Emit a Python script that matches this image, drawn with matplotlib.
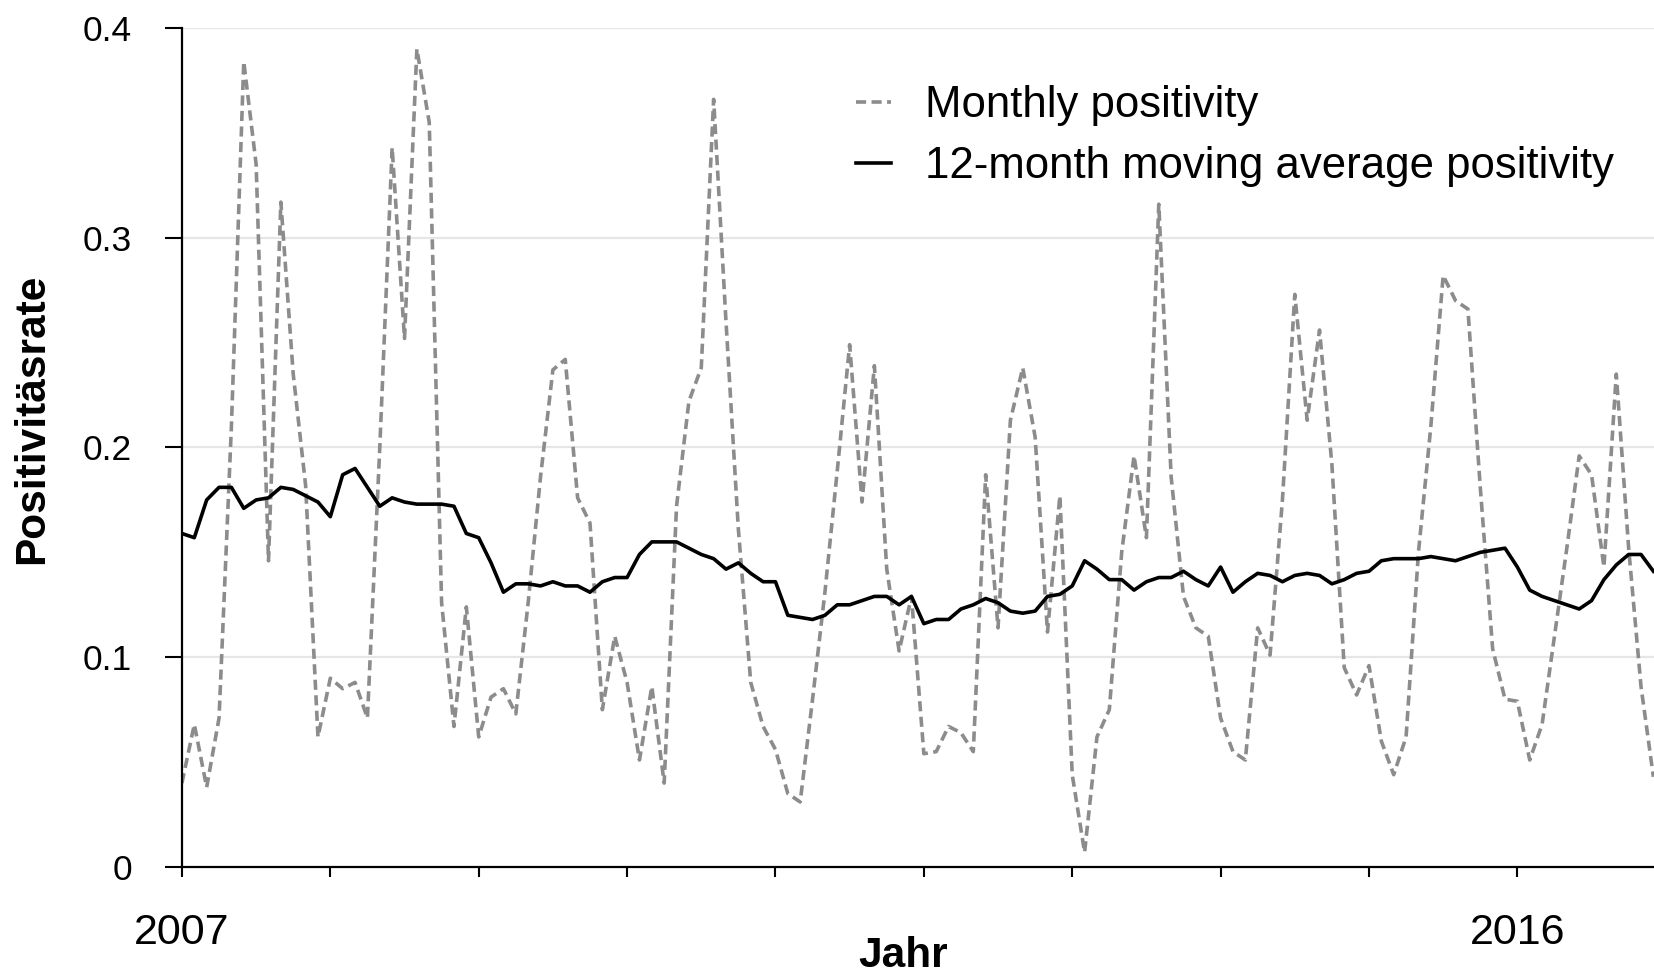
import matplotlib
matplotlib.use("Agg")
import matplotlib.pyplot as plt

plt.rcParams["font.family"] = ["Liberation Sans", "DejaVu Sans"]

# monthly values, Jan 2007 .. Dec 2016
monthly = [
    0.040, 0.068, 0.038, 0.071, 0.210, 0.384, 0.335, 0.146, 0.317, 0.235, 0.182, 0.062,
    0.090, 0.085, 0.088, 0.071, 0.200, 0.343, 0.252, 0.390, 0.355, 0.126, 0.067, 0.124,
    0.062, 0.081, 0.085, 0.073, 0.126, 0.186, 0.237, 0.242, 0.176, 0.164, 0.075, 0.110,
    0.088, 0.051, 0.086, 0.040, 0.172, 0.222, 0.238, 0.366, 0.260, 0.161, 0.088, 0.067,
    0.056, 0.035, 0.031, 0.080, 0.131, 0.189, 0.249, 0.174, 0.239, 0.142, 0.103, 0.129,
    0.054, 0.055, 0.067, 0.064, 0.055, 0.187, 0.114, 0.213, 0.238, 0.205, 0.112, 0.177,
    0.044, 0.007, 0.062, 0.075, 0.150, 0.196, 0.157, 0.316, 0.186, 0.129, 0.114, 0.110,
    0.071, 0.055, 0.051, 0.114, 0.101, 0.175, 0.273, 0.213, 0.256, 0.192, 0.095, 0.082,
    0.096, 0.060, 0.044, 0.062, 0.150, 0.210, 0.282, 0.270, 0.266, 0.181, 0.104, 0.080,
    0.079, 0.051, 0.068, 0.110, 0.152, 0.196, 0.187, 0.143, 0.235, 0.152, 0.086, 0.043,
]

moving_avg = [
    0.159, 0.157, 0.175, 0.181, 0.181, 0.171, 0.175, 0.176, 0.181, 0.180, 0.177, 0.174,
    0.167, 0.187, 0.190, 0.181, 0.172, 0.176, 0.174, 0.173, 0.173, 0.173, 0.172, 0.159,
    0.157, 0.145, 0.131, 0.135, 0.135, 0.134, 0.136, 0.134, 0.134, 0.131, 0.136, 0.138,
    0.138, 0.149, 0.155, 0.155, 0.155, 0.152, 0.149, 0.147, 0.142, 0.145, 0.140, 0.136,
    0.136, 0.120, 0.119, 0.118, 0.120, 0.125, 0.125, 0.127, 0.129, 0.129, 0.125, 0.129,
    0.116, 0.118, 0.118, 0.123, 0.125, 0.128, 0.126, 0.122, 0.121, 0.122, 0.129, 0.130,
    0.134, 0.146, 0.142, 0.137, 0.137, 0.132, 0.136, 0.138, 0.138, 0.141, 0.137, 0.134,
    0.143, 0.131, 0.136, 0.140, 0.139, 0.136, 0.139, 0.140, 0.139, 0.135, 0.137, 0.140,
    0.141, 0.146, 0.147, 0.147, 0.147, 0.148, 0.147, 0.146, 0.148, 0.150, 0.151, 0.152,
    0.143, 0.132, 0.129, 0.127, 0.125, 0.123, 0.127, 0.137, 0.144, 0.149, 0.149, 0.141,
]

years = list(range(2007, 2017))
year_labels = ["2007", "", "", "", "", "", "", "", "", "2016"]
y_ticks = [0, 0.1, 0.2, 0.3, 0.4]
y_labels = ["0", "0.1", "0.2", "0.3", "0.4"]

months = list(range(len(monthly)))

fig = plt.figure(figsize=(16.54, 9.76), dpi=100)
ax = fig.add_axes([0.110, 0.1117, 0.890, 0.8596])

for yv in y_ticks[1:]:
    ax.axhline(yv, color="#e6e6e6", lw=1.6, zorder=0)

ax.plot(months, monthly, color="#8c8c8c", lw=2.6, linestyle=(0, (2.8, 1.5)),
        label="Monthly positivity", zorder=2)
ax.plot(months, moving_avg, color="black", lw=2.6,
        label="12-month moving average positivity", zorder=3)

ax.set_xlim(0, 119.05)
ax.set_ylim(0, 0.4)

ax.set_xticks([(y - 2007) * 12 for y in years])
ax.set_xticklabels(year_labels)
ax.set_yticks(y_ticks)
ax.set_yticklabels(y_labels)

ax.tick_params(axis="x", length=7, width=1.5, pad=26, labelsize=31)
ax.tick_params(axis="y", length=12, width=1.5, pad=24, labelsize=25.5)

for side in ["top", "right"]:
    ax.spines[side].set_visible(False)
for side in ["left", "bottom"]:
    ax.spines[side].set_linewidth(1.6)

ax.set_xlabel("Jahr", fontsize=30.5, fontweight="bold")
ax.xaxis.set_label_coords(0.49, -0.082)
ax.set_ylabel("Positivitäsrate", fontsize=30.5, fontweight="bold")
ax.yaxis.set_label_coords(-0.088, 0.534)

leg = ax.legend(loc="upper left", bbox_to_anchor=(0.437, 0.968), fontsize=31.5,
                frameon=True, fancybox=False, edgecolor="none", facecolor="white",
                framealpha=1, handlelength=0.8, handletextpad=0.78, labelspacing=0.45,
                borderpad=0.2)
leg.set_zorder(5)

fig.savefig("out.png", dpi=100)
